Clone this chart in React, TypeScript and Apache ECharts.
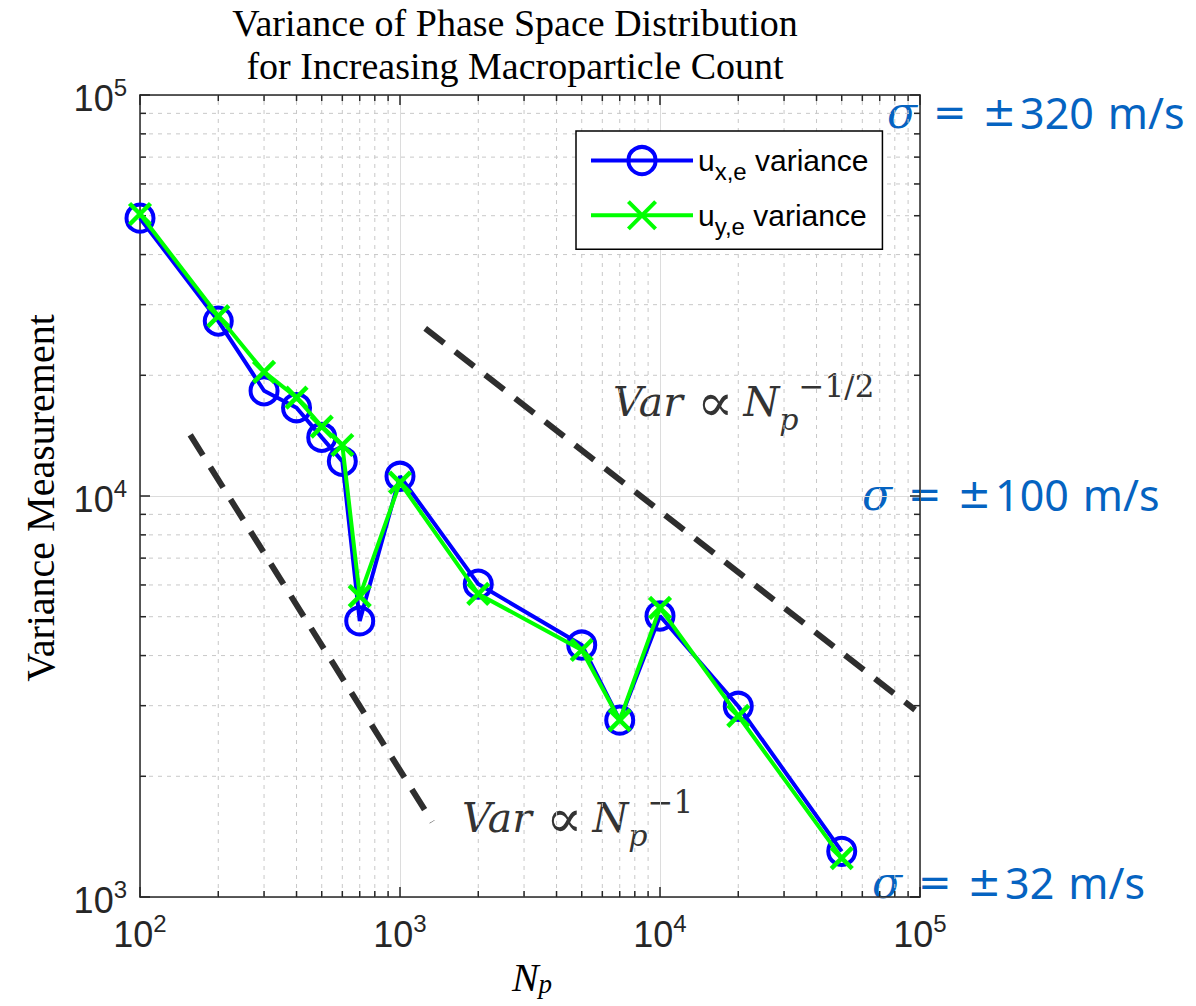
import React, { useEffect, useRef } from "react";
import * as echarts from "echarts";

// ---- data ----
const particleCounts = [100, 200, 300, 400, 500, 600, 700, 1000, 2000, 5000, 7000, 10000, 20000, 50000];
const uxVariance = [49300, 27300, 18300, 16600, 14000, 12200, 4880, 11200, 6030, 4250, 2760, 5020, 2990, 1300];
const uyVariance = [50500, 28100, 20400, 17600, 14900, 13400, 5630, 10800, 5700, 4130, 2760, 5260, 2830, 1250];

const invRefX = [156, 1330];
const invRefY = [14200, 1540];
const halfRefX = [1250, 95700];
const halfRefY = [26200, 2930];

const xRange = [100, 100000];
const yRange = [1000, 100000];
const xMinor = [200, 300, 400, 500, 600, 700, 800, 900, 2000, 3000, 4000, 5000, 6000, 7000, 8000, 9000, 20000, 30000, 40000, 50000, 60000, 70000, 80000, 90000];
const yMinor = [2000, 3000, 4000, 5000, 6000, 7000, 8000, 9000, 20000, 30000, 40000, 50000, 60000, 70000, 80000, 90000];

const sigmaLabels = ["320", "100", "32"];

const AXIS = "#262626";
const SANS = '"Liberation Sans", Arial, sans-serif';
const SERIF = '"Liberation Serif", "Times New Roman", serif';
const MATH = '"DejaVu Serif", serif';
const BLUE_TXT = "#0563c1";

const pow10Label = (v: number) => `{b|10}{s|${Math.round(Math.log10(v))}}`;
const labelRich = {
  b: { fontSize: 36, lineHeight: 40, padding: [6, 0, 0, 0], fontFamily: SANS, color: AXIS },
  s: { fontSize: 24, lineHeight: 24, fontFamily: SANS, color: AXIS, verticalAlign: "top" as const },
};

export default function App() {
  const ref = useRef<HTMLDivElement>(null);
  useEffect(() => {
    if (!ref.current) return;
    const chart = echarts.init(ref.current, null, { renderer: "svg" });

    const axisCommon = {
      type: "log" as const,
      logBase: 10,
      axisLine: { show: true, onZero: false, lineStyle: { color: AXIS, width: 1.5 } },
      axisTick: { show: true, inside: true, length: 10, lineStyle: { color: AXIS, width: 1.5 } },
    };

    const minorStyle = { stroke: "#c8c8c8", lineWidth: 1, lineDash: [4, 5] };
    const tickStyle = { stroke: AXIS, lineWidth: 1.5 };

    const option: any = {
      animation: false,
      backgroundColor: "#ffffff",
      grid: { left: 140, top: 95, width: 780, height: 802, containLabel: false },
      xAxis: [
        {
          ...axisCommon,
          min: xRange[0],
          max: xRange[1],
          position: "bottom",
          axisLabel: { formatter: pow10Label, rich: labelRich, margin: 14, showMinLabel: true, showMaxLabel: true },
          splitLine: { show: true, lineStyle: { color: "#dcdcdc", width: 1 } },
        },
        {
          ...axisCommon,
          min: xRange[0],
          max: xRange[1],
          position: "top",
          axisLabel: { show: false },
          splitLine: { show: false },
        },
      ],
      yAxis: [
        {
          ...axisCommon,
          min: yRange[0],
          max: yRange[1],
          position: "left",
          axisLabel: { formatter: pow10Label, rich: labelRich, margin: 13, showMinLabel: true, showMaxLabel: true },
          splitLine: { show: true, lineStyle: { color: "#dcdcdc", width: 1 } },
        },
        {
          ...axisCommon,
          min: yRange[0],
          max: yRange[1],
          position: "right",
          axisLabel: { show: false },
          splitLine: { show: false },
        },
      ],
      legend: {
        data: ["u_x,e variance", "u_y,e variance"],
        orient: "vertical",
        left: 576,
        top: 131,
        padding: [14, 14, 11, 13],
        itemGap: 16,
        itemWidth: 102,
        itemHeight: 34,
        backgroundColor: "#ffffff",
        borderColor: "#000000",
        borderWidth: 1.5,
        borderRadius: 0,
        itemStyle: { borderWidth: 4 },
        lineStyle: { width: 4 },
        formatter: (name: string) =>
          name.startsWith("u_x") ? "{u|u}{sub|x,e}{t| variance}" : "{u|u}{sub|y,e}{t| variance}",
        textStyle: {
          color: "#000",
          fontFamily: SANS,
          fontSize: 30,
          rich: {
            u: { fontSize: 30, fontFamily: SANS, color: "#000", lineHeight: 46 },
            sub: { fontSize: 24, fontFamily: SANS, color: "#000", lineHeight: 22, verticalAlign: "bottom" },
            t: { fontSize: 30, fontFamily: SANS, color: "#000", lineHeight: 46 },
          },
        },
      },
      series: [
        {
          type: "custom",
          name: "xgrid",
          silent: true,
          z: 1,
          data: xMinor.map((v) => [v, yRange[0]]),
          renderItem: (_p: any, api: any) => {
            const x = api.value(0);
            const b = api.coord([x, yRange[0]]);
            const t = api.coord([x, yRange[1]]);
            return {
              type: "group",
              children: [
                { type: "line", shape: { x1: b[0], y1: b[1], x2: t[0], y2: t[1] }, style: minorStyle },
                { type: "line", shape: { x1: b[0], y1: b[1], x2: b[0], y2: b[1] - 6 }, style: tickStyle },
                { type: "line", shape: { x1: t[0], y1: t[1], x2: t[0], y2: t[1] + 6 }, style: tickStyle },
              ],
            };
          },
        },
        {
          type: "custom",
          name: "ygrid",
          silent: true,
          z: 1,
          data: yMinor.map((v) => [xRange[0], v]),
          renderItem: (_p: any, api: any) => {
            const y = api.value(1);
            const l = api.coord([xRange[0], y]);
            const r = api.coord([xRange[1], y]);
            return {
              type: "group",
              children: [
                { type: "line", shape: { x1: l[0], y1: l[1], x2: r[0], y2: r[1] }, style: minorStyle },
                { type: "line", shape: { x1: l[0], y1: l[1], x2: l[0] + 6, y2: l[1] }, style: tickStyle },
                { type: "line", shape: { x1: r[0], y1: r[1], x2: r[0] - 6, y2: r[1] }, style: tickStyle },
              ],
            };
          },
        },
        {
          type: "line",
          name: "inv",
          silent: true,
          z: 2,
          symbol: "none",
          data: invRefX.map((x, i) => [x, invRefY[i]]),
          lineStyle: { color: "#2e2e2e", width: 6, type: [24, 14] },
        },
        {
          type: "line",
          name: "half",
          silent: true,
          z: 2,
          symbol: "none",
          data: halfRefX.map((x, i) => [x, halfRefY[i]]),
          lineStyle: { color: "#2e2e2e", width: 6, type: [24, 14] },
        },
        {
          type: "line",
          name: "u_x,e variance",
          z: 3,
          data: particleCounts.map((x, i) => [x, uxVariance[i]]),
          lineStyle: { color: "#0000ff", width: 4 },
          symbol: "circle",
          symbolSize: 27,
          itemStyle: { color: "rgba(0,0,0,0)", borderColor: "#0000ff", borderWidth: 4 },
        },
        {
          type: "line",
          name: "u_y,e variance",
          z: 4,
          data: particleCounts.map((x, i) => [x, uyVariance[i]]),
          lineStyle: { color: "#00ff00", width: 4 },
          symbol: "path://M0 0L10 10M10 0L0 10",
          symbolSize: 21,
          itemStyle: { color: "rgba(0,0,0,0)", borderColor: "#00ff00", borderWidth: 4.5 },
        },
      ],
      graphic: [
        {
          type: "text",
          x: 515,
          y: 1,
          style: {
            text: "Variance of Phase Space Distribution\nfor Increasing Macroparticle Count",
            font: `38px ${SERIF}`,
            fill: "#000",
            textAlign: "center",
            textVerticalAlign: "top",
            lineHeight: 43,
          },
        },
        {
          type: "text",
          x: 40,
          y: 498,
          rotation: Math.PI / 2,
          style: {
            text: "Variance Measurement",
            font: `40px ${SERIF}`,
            fill: "#000",
            textAlign: "center",
            textVerticalAlign: "middle",
          },
        },
        {
          type: "text",
          x: 532,
          y: 977,
          style: {
            text: "{n|N}{p|p}",
            textAlign: "center",
            textVerticalAlign: "middle",
            rich: {
              n: { fontSize: 40, fontStyle: "italic", fontFamily: SERIF, fill: "#000", lineHeight: 40 },
              p: { fontSize: 27, fontStyle: "italic", fontFamily: SERIF, fill: "#000", lineHeight: 24, verticalAlign: "bottom" },
            },
          },
        },
        ...[
          { x: 887, y: 112, v: sigmaLabels[0] },
          { x: 862, y: 494, v: sigmaLabels[1] },
          { x: 872, y: 882, v: sigmaLabels[2] },
        ].map((a) => ({
          type: "text",
          x: a.x,
          y: a.y,
          style: {
            text: `{s|σ}{e|=}{pm|±}{n|${a.v}}{u|m/s}`,
            textAlign: "left",
            textVerticalAlign: "middle",
            rich: {
              s: { fontSize: 44, fontStyle: "italic", fontFamily: MATH, fill: BLUE_TXT },
              e: { fontSize: 40, fontFamily: '"DejaVu Sans", sans-serif', fill: BLUE_TXT, padding: [0, 0, 0, 16] },
              pm: { fontSize: 40, fontFamily: '"DejaVu Sans", sans-serif', fill: BLUE_TXT, padding: [0, 0, 0, 16] },
              n: { fontSize: 43, fontFamily: '"Noto Sans", sans-serif', fill: BLUE_TXT, padding: [0, 0, 0, 4] },
              u: { fontSize: 43, fontFamily: '"Noto Sans", sans-serif', fill: BLUE_TXT, padding: [0, 0, 0, 14] },
            },
          },
        })),
        ...[
          { x: 613, y: 402, e: "−1/2" },
          { x: 462, y: 818, e: "−1" },
        ].map((a) => ({
          type: "text",
          x: a.x,
          y: a.y,
          style: {
            text: `{v|Var}{o|∝}{v|N}{sub|p}{sup|${a.e}}`,
            textAlign: "left",
            textVerticalAlign: "middle",
            rich: {
              v: { fontSize: 41, fontStyle: "italic", fontFamily: MATH, fill: "#333", lineHeight: 64 },
              o: { fontSize: 54, fontFamily: MATH, fill: "#333", lineHeight: 64, padding: [0, 10, 0, 14] },
              sub: { fontSize: 30, fontStyle: "italic", fontFamily: MATH, fill: "#333", lineHeight: 28, verticalAlign: "bottom" },
              sup: { fontSize: 31, fontFamily: MATH, fill: "#333", lineHeight: 28, verticalAlign: "top" },
            },
          },
        })),
      ],
    };

    chart.setOption(option);
    return () => chart.dispose();
  }, []);

  return (
    <div
      ref={ref}
      style={{ position: "fixed", left: 0, top: 0, width: 1196, height: 1006, background: "#fff" }}
    />
  );
}
